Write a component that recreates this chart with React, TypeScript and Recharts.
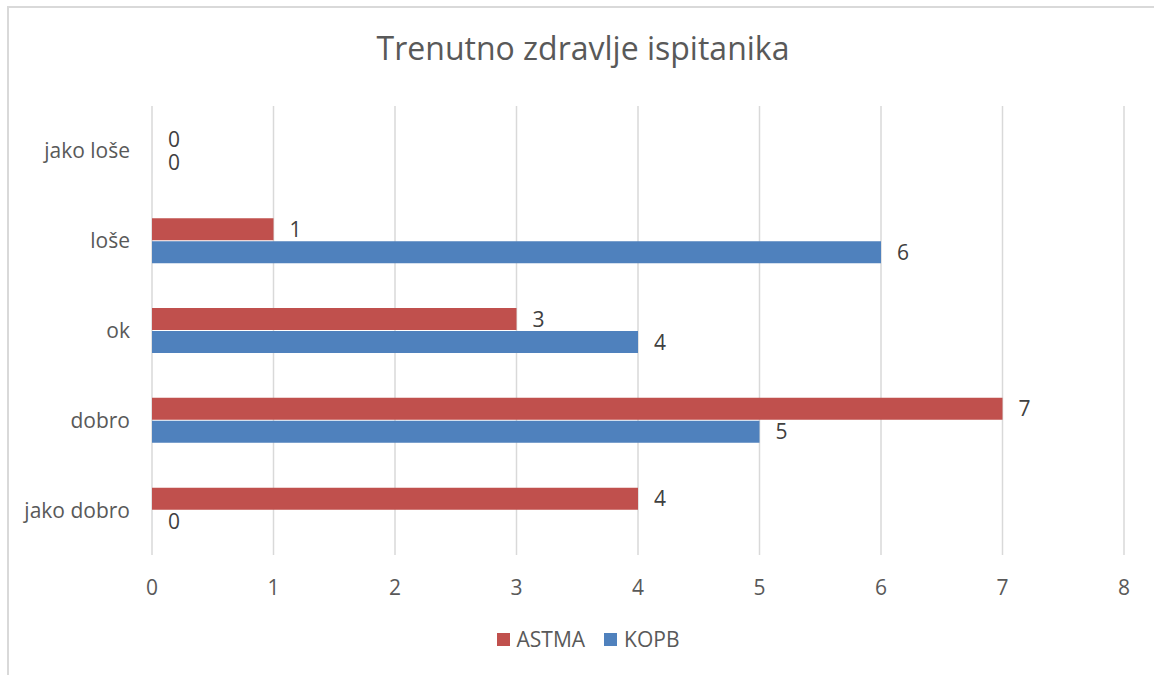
import { BarChart, Bar, XAxis, YAxis, CartesianGrid, LabelList } from "recharts";

const categories = ["jako loše", "loše", "ok", "dobro", "jako dobro"];
const astma = [0, 1, 3, 7, 4];
const kopb = [0, 6, 4, 5, 0];
const xTicks = [0, 1, 2, 3, 4, 5, 6, 7, 8];

const RED = "#C0504D";
const BLUE = "#4F81BD";
const FONT = "'Open Sans', sans-serif";

const data = categories.map((name, i) => ({
  name,
  astma: astma[i],
  kopb: kopb[i],
}));

// value label to the right of the bar end, also drawn for zero-length bars
const renderValue = (props: any) => {
  const { x, y, width, height, value } = props;
  return (
    <text
      x={Number(x) + Number(width) + 16}
      y={Number(y) + Number(height) / 2}
      dy="0.355em"
      textAnchor="start"
      fill="#404040"
      fontSize={21}
      fontFamily={FONT}
    >
      {value}
    </text>
  );
};

export default function App() {
  return (
    <div
      style={{
        position: "absolute",
        left: 0,
        top: 0,
        width: 1154,
        height: 675,
        overflow: "hidden",
        background: "#fff",
        fontFamily: FONT,
      }}
    >
      {/* frame, only left and top edges fall inside the window */}
      <div
        style={{
          position: "absolute",
          left: 7,
          top: 6,
          width: 1200,
          height: 700,
          border: "2px solid #d9d9d9",
        }}
      />

      <div
        style={{
          position: "absolute",
          left: 0,
          top: 26,
          width: 1166,
          textAlign: "center",
          fontSize: 32,
          color: "#595959",
        }}
      >
        Trenutno zdravlje ispitanika
      </div>

      <div style={{ position: "absolute", left: 0, top: 0 }}>
        <BarChart
          width={1154}
          height={600}
          data={data}
          layout="vertical"
          margin={{ top: 106, right: 30, bottom: 0, left: 0 }}
          barCategoryGap="25%"
          barGap={1}
        >
          <CartesianGrid horizontal={false} stroke="#d9d9d9" strokeWidth={1.5} />
          <XAxis
            type="number"
            domain={[0, 8]}
            ticks={xTicks}
            interval={0}
            axisLine={false}
            tickLine={false}
            tickSize={0}
            tickMargin={25}
            height={45}
            tick={{ fill: "#595959", fontSize: 21, fontFamily: FONT }}
          />
          <YAxis
            type="category"
            dataKey="name"
            width={152}
            axisLine={false}
            tickLine={false}
            tickSize={0}
            tickMargin={22}
            tick={{ fill: "#595959", fontSize: 21, fontFamily: FONT }}
          />
          <Bar dataKey="astma" name="ASTMA" fill={RED} minPointSize={0.01} isAnimationActive={false}>
            <LabelList dataKey="astma" content={renderValue} />
          </Bar>
          <Bar dataKey="kopb" name="KOPB" fill={BLUE} minPointSize={0.01} isAnimationActive={false}>
            <LabelList dataKey="kopb" content={renderValue} />
          </Bar>
        </BarChart>
      </div>

      {/* legend */}
      <div
        style={{
          position: "absolute",
          left: 0,
          top: 625,
          width: 1176,
          display: "flex",
          justifyContent: "center",
          alignItems: "center",
          fontSize: 21,
          color: "#595959",
        }}
      >
        <span style={{ display: "inline-block", width: 13, height: 13, background: RED, marginRight: 7 }} />
        <span style={{ marginRight: 19 }}>ASTMA</span>
        <span style={{ display: "inline-block", width: 13, height: 13, background: BLUE, marginRight: 7 }} />
        <span>KOPB</span>
      </div>
    </div>
  );
}
